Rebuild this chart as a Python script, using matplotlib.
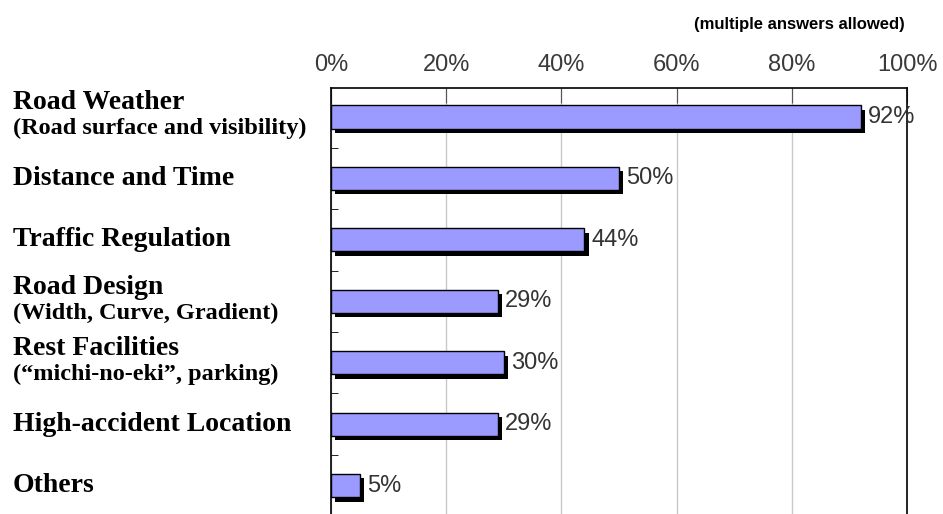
import matplotlib.pyplot as plt
import matplotlib.patheffects as pe
from matplotlib.transforms import blended_transform_factory

# data
titles = ['Road Weather', 'Distance and Time', 'Traffic Regulation', 'Road Design',
          'Rest Facilities', 'High-accident Location', 'Others']
subtitles = ['(Road surface and visibility)', '', '', '(Width, Curve, Gradient)',
             '(\u201cmichi-no-eki\u201d, parking)', '', '']
values = [92, 50, 44, 29, 30, 29, 5]
ticks = [0, 20, 40, 60, 80, 100]

fig = plt.figure(figsize=(9.43, 5.14), dpi=100)
ax = fig.add_axes([331/943, 0, 576/943, 1 - 88/514])

ypos = list(range(len(values)))
bars = ax.barh(ypos, values, height=0.38, color='#9b9bff', edgecolor='black',
               linewidth=1, zorder=3)
for b in bars:
    b.set_path_effects([pe.SimplePatchShadow(offset=(3.2, -3.2), shadow_rgbFace='black', alpha=1),
                        pe.Normal()])

for y, v in zip(ypos, values):
    ax.text(v + 1.2, y, f'{v}%', va='center', ha='left', fontsize=17,
            family='Liberation Sans', color='#333333')

ax.set_xlim(0, 100)
ax.set_ylim(-0.5 + (514 - 88) / 61.2, -0.47)
ax.xaxis.tick_top()
ax.set_xticks(ticks)
ax.set_xticklabels([f'{t}%' for t in ticks], fontsize=17, family='Liberation Sans',
                   color='#3a3a3a')
ax.tick_params(axis='x', direction='in', length=11, pad=9, width=0.8, color='#555555')
ax.set_yticks([])
ax.set_yticks([i + 0.5 for i in ypos[:-1]], minor=True)
ax.tick_params(axis='y', which='minor', direction='in', length=5)
ax.grid(axis='x', color='#c8c8c8', linewidth=1, zorder=0)
ax.spines['bottom'].set_visible(False)
for s in ['left', 'top', 'right']:
    ax.spines[s].set_linewidth(1.2)

tr = blended_transform_factory(fig.transFigure, ax.transData)
for y, t, s in zip(ypos, titles, subtitles):
    if s:
        ax.text(13/943, y - 0.23, t, transform=tr, fontsize=20, fontweight='bold',
                family='Liberation Serif', va='center', ha='left')
        ax.text(13/943, y + 0.19, s, transform=tr, fontsize=17.5, fontweight='bold',
                family='Liberation Serif', va='center', ha='left')
    else:
        ax.text(13/943, y, t, transform=tr, fontsize=20, fontweight='bold',
                family='Liberation Serif', va='center', ha='left')

fig.text(905/943, 1 - 25/514, '(multiple answers allowed)', ha='right', va='center',
         fontsize=12, fontweight='bold', family='Liberation Sans')

fig.savefig('out.png', dpi=100)
